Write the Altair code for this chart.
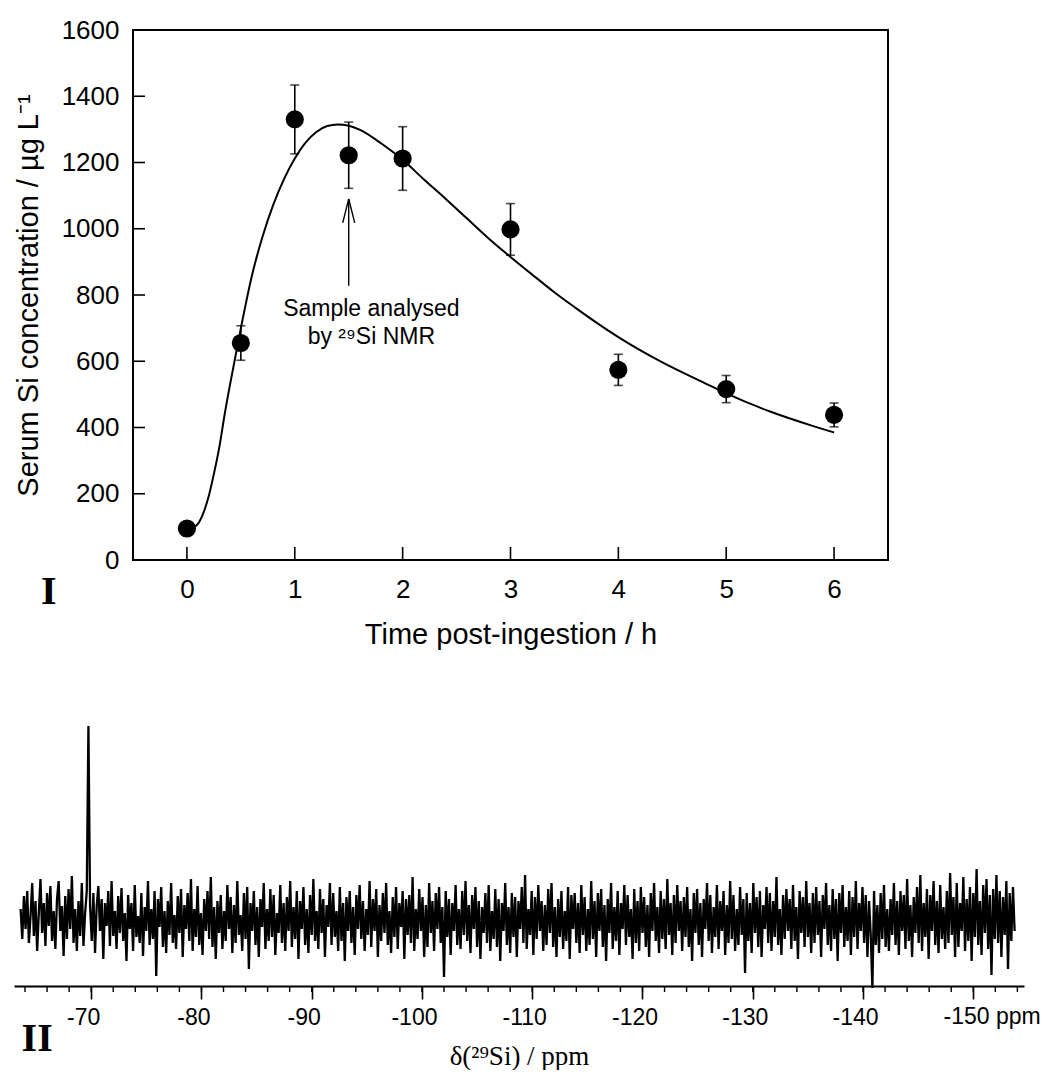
import altair as alt
import pandas as pd

# ---------------- Panel I : serum Si ----------------
time_h = [0, 0.5, 1, 1.5, 2, 3, 4, 5, 6]
serum_si = [95, 655, 1330, 1222, 1212, 998, 574, 516, 438]
serum_err = [10, 52, 104, 100, 96, 78, 47, 41, 36]

fit_time = [0, 0.05, 0.1, 0.15, 0.2, 0.25, 0.3, 0.35, 0.4, 0.45, 0.5, 0.55, 0.6,
            0.7, 0.8, 0.9, 1.0, 1.1, 1.2, 1.3, 1.4, 1.5, 1.6, 1.8, 2.0, 2.2, 2.4,
            2.6, 2.8, 3.0, 3.2, 3.4, 3.6, 3.8, 4.0, 4.4, 4.8, 5.0, 5.4, 5.8, 6.0]
fit_si = [95, 97, 108, 140, 190, 260, 340, 440, 530, 615, 700, 780, 855,
          975, 1072, 1150, 1212, 1260, 1292, 1310, 1315, 1311, 1299, 1258, 1208, 1148, 1090,
          1030, 970, 915, 862, 810, 762, 716, 673, 598, 534, 503, 449, 405, 385]

x_tick_vals = [0, 1, 2, 3, 4, 5, 6]
y_tick_vals = [0, 200, 400, 600, 800, 1000, 1200, 1400, 1600]
t_range = [-0.5, 6.5]
si_range = [0, 1600]

arrow_t = 1.5
arrow_from = 828
arrow_to = 1090
note_t = [1.71, 1.71]
note_v = [737, 652]
note_text = ["Sample analysed", "by ²⁹Si NMR"]

# ---------------- Panel II : 29Si NMR spectrum ----------------
ppm_start = -63.6
ppm_step = -0.15
nmr_intensity = [
    12, -18, 25, -8, 30, -22, 5, 38, -15, 20, -30, 8, 42, -12, 18, -25, 28, -5, 35, -20,
    10, -28, 22, 40, -10, 15, -35, 25, -18, 32, -8, 45, -22, 12, -30, 20, -15, 38, -25, 8,
    30, 195, 15, -20, 28, -32, 15, 35, -10, 22, -38, 18, -5, 30, -25, 40, -15, 10, -28, 25,
    -12, 33, -20, 8, -40, 26, -8, 18, -30, 36, -16, 5, -22, 28, -35, 14, -10, 40, -24, 12,
    -18, 30, -55, 22, -6, 34, -26, 10, -32, 20, -14, 38, -22, 6, -28, 25, -12, 32, -36, 16,
    -8, 28, -20, 42, -30, 12, -16, 35, -24, 8, -34, 22, -10, 30, -18, 44, -26, 14, -38, 20,
    -12, 26, -28, 10, -20, 36, -8, 24, -32, 16, -22, 40, -14, 6, -30, 28, -18, 34, -48, 18,
    -10, 30, -24, 14, -36, 22, -6, 38, -28, 12, -20, 32, -16, 26, -34, 8, -12, 36, -22, 18,
    -30, 24, -10, 40, -26, 14, -18, 30, -38, 20, -8, 34, -24, 12, -32, 26, -14, 42, -20, 10,
    -28, 32, -12, 22, -36, 16, -6, 38, -24, 28, -16, 10, -30, 34, -20, 18, -40, 24, -10, 30,
    -22, 14, -34, 26, -8, 36, -18, 20, -30, 12, -14, 40, -26, 22, -10, 32, -36, 16, -20, 28,
    -12, 38, -24, 10, -32, 24, -16, 34, -28, 18, -6, 30, -38, 22, -14, 26, -22, 44, -30, 12,
    -18, 32, -10, 24, -36, 16, -26, 38, -12, 20, -30, 28, -8, 34, -22, 14, -56, 30, -16, 22,
    -34, 18, -10, 36, -24, 12, -28, 30, -14, 40, -20, 16, -32, 26, -8, 34, -26, 20, -38, 14,
    -12, 28, -22, 36, -30, 10, -18, 32, -26, 22, -40, 18, -10, 38, -24, 14, -32, 28, -16, 24,
    -36, 20, -8, 34, -22, 46, -28, 12, -14, 30, -34, 24, -18, 36, -10, 20, -30, 16, -24, 32,
    -12, 38, -26, 14, -36, 22, -16, 30, -28, 10, -20, 34, -38, 26, -8, 28, -22, 18, -32, 36,
    -14, 24, -30, 12, -24, 40, -18, 20, -36, 28, -10, 32, -26, 16, -40, 22, -12, 38, -28, 14,
    -20, 30, -34, 18, -8, 36, -24, 26, -16, 12, -38, 32, -22, 20, -30, 34, -12, 24, -26, 16,
    -36, 28, -10, 38, -20, 14, -32, 30, -18, 22, -28, 42, -14, 18, -34, 26, -22, 36, -10, 20,
    -30, 24, -16, 34, -26, 12, -40, 28, -12, 32, -24, 18, -36, 22, -8, 38, -20, 26, -32, 14,
    -16, 36, -28, 20, -10, 30, -34, 16, -22, 40, -18, 26, -30, 12, -24, 34, -14, 22, -52, 28,
    -20, 18, -32, 38, -12, 24, -26, 30, -36, 16, -8, 34, -22, 28, -30, 20, -16, 44, -24, 12,
    -34, 26, -18, 32, -10, 22, -28, 36, -20, 14, -38, 30, -12, 24, -26, 40, -16, 18, -32, 28,
    -22, 34, -14, 20, -36, 26, -8, 38, -24, 16, -30, 32, -18, 22, -40, 28, -12, 36, -26, 14,
    -20, 30, -34, 24, -16, 40, -28, 18, -10, 34, -22, 26, -36, 20, -14, -67, 30, -24, 16, -32,
    28, -18, 36, -26, 12, -30, 22, -14, 38, -24, 20, -34, 30, -10, 26, -28, 42, -20, 16, -36,
    24, -12, 34, -22, 46, -30, 18, -16, 32, -38, 26, -10, 40, -24, 20, -32, 36, -18, 14, -28,
    30, -22, 48, -14, 24, -36, 38, -26, 18, -10, 44, -30, 22, -20, 34, -40, 28, -16, 52, -24,
    20, -34, 36, -12, 42, -28, 26, -54, 32, -18, 46, -22, 30, -36, 24, -14, 40, -48, 28, -20,
    34, -10,
]
major_ppm = [-70, -80, -90, -100, -110, -120, -130, -140, -150]
minor_ppm = list(range(-64, -155, -2))

# ---------------- data frames ----------------
pts = pd.DataFrame({"t": time_h, "v": serum_si,
                    "lo": [v - e for v, e in zip(serum_si, serum_err)],
                    "hi": [v + e for v, e in zip(serum_si, serum_err)]})
fit = pd.DataFrame({"t": fit_time, "v": fit_si})
yt = pd.DataFrame({"v": y_tick_vals})
xt = pd.DataFrame({"t": x_tick_vals})
arrow = pd.DataFrame({"t": [arrow_t], "v": [arrow_from], "v2": [arrow_to]})
arrow_head = pd.DataFrame({"t": [arrow_t], "v": [arrow_to - 36]})
notes = pd.DataFrame({"t": note_t, "v": note_v, "label": note_text})
panel1_lab = pd.DataFrame({"t": [-1.28], "v": [-133], "label": ["I"]})
frame = pd.DataFrame({"t": [t_range[0]], "t2": [t_range[1]], "v": [si_range[0]], "v2": [si_range[1]]})

spec = pd.DataFrame({"ppm": [ppm_start + i * ppm_step for i in range(len(nmr_intensity))],
                     "i": nmr_intensity})
minor = pd.DataFrame({"ppm": minor_ppm})
ppm_lab = pd.DataFrame({"ppm": [-147.3], "i": [-103], "label": ["-150 ppm"]})
panel2_lab = pd.DataFrame({"ppm": [-65.1], "i": [-130], "label": ["II"]})

# ---------------- Panel I chart ----------------
# plot area extended to the left so that both panels share the same left origin;
# the y axis is moved inward onto t = -0.5
PX_PER_H = 107.86
left_extra = 119
xs = alt.Scale(domain=[t_range[0] - left_extra / PX_PER_H, t_range[1]], nice=False, zero=False)
ys = alt.Scale(domain=si_range, nice=False, zero=False)
ax_x = alt.Axis(values=x_tick_vals, ticks=False, tickSize=0, grid=False, format="d", domain=False,
                labelFontSize=26, labelPadding=16, labelColor="black",
                title="Time post-ingestion  / h", titleFontSize=29, titlePadding=18,
                titleFontWeight="normal", titleColor="black", titleX=119 + 755 / 2)
ax_y = alt.Axis(values=y_tick_vals, ticks=False, tickSize=0, grid=False, format="d", domain=False,
                offset=-left_extra,
                labelFontSize=26, labelPadding=14, labelColor="black",
                title="Serum Si concentration  / µg L⁻¹", titleFontSize=29, titlePadding=18,
                titleFontWeight="normal", titleColor="black")
X = alt.X("t:Q", scale=xs, axis=ax_x)
Y = alt.Y("v:Q", scale=ys, axis=ax_y)

box = alt.Chart(frame).mark_rect(fillOpacity=0, stroke="black", strokeWidth=2).encode(
    x=X, x2="t2:Q", y=Y, y2="v2:Q")
curve = alt.Chart(fit).mark_line(color="black", strokeWidth=2, interpolate="monotone").encode(x=X, y=Y)
err = alt.Chart(pts).mark_rule(color="black", strokeWidth=1.6).encode(
    x=X, y=alt.Y("lo:Q", scale=ys, axis=ax_y), y2="hi:Q")
cap_lo = alt.Chart(pts).mark_tick(color="black", orient="horizontal", size=9, thickness=1.6).encode(
    x=X, y=alt.Y("lo:Q", scale=ys, axis=ax_y))
cap_hi = alt.Chart(pts).mark_tick(color="black", orient="horizontal", size=9, thickness=1.6).encode(
    x=X, y=alt.Y("hi:Q", scale=ys, axis=ax_y))
dots = alt.Chart(pts).mark_circle(color="black", size=330, opacity=1).encode(x=X, y=Y)
ytick = alt.Chart(yt).mark_rule(color="black", strokeWidth=1.6).encode(
    y=Y, x=alt.datum(t_range[0]), x2=alt.datum(t_range[0] + 12 / PX_PER_H))
xtick = alt.Chart(xt).mark_rule(color="black", strokeWidth=1.6).encode(
    x=X, y=alt.value(530), y2=alt.value(517))
arr = alt.Chart(arrow).mark_rule(color="black", strokeWidth=1.4).encode(
    x=X, y=Y, y2="v2:Q")
head = alt.Chart(arrow_head).mark_point(shape="M-0.5,1L0,-1L0.5,1", filled=False, color="black",
                                        size=576, strokeWidth=1.4, opacity=1).encode(x=X, y=Y)
note = alt.Chart(notes).mark_text(fontSize=23, align="center", baseline="alphabetic",
                                  color="black").encode(x=X, y=Y, text="label:N")
lab1 = alt.Chart(panel1_lab).mark_text(fontSize=40, font="Liberation Serif", fontWeight="bold",
                                       align="center", baseline="alphabetic", color="black").encode(
    x=X, y=Y, text="label:N")

top = alt.layer(box, curve, err, cap_lo, cap_hi, dots, ytick, xtick, arr, head, note, lab1).properties(
    width=left_extra + 755, height=530, view=alt.ViewBackground(stroke="transparent"))

# ---------------- Panel II chart ----------------
ps = alt.Scale(domain=[-63, -154.6], nice=False, zero=False)
is_ = alt.Scale(domain=[-65, 200], nice=False, zero=False)
ax_p = alt.Axis(values=major_ppm, tickSize=13, tickWidth=1.6, tickColor="black", grid=False,
                labelFontSize=23, labelPadding=7, labelOffset=-8, labelColor="black",
                labelExpr="datum.value == -150 ? '' : '-' + abs(datum.value)",
                domainColor="black", domainWidth=2,
                title="δ(²⁹Si) / ppm", titleFont="Liberation Serif", titleFontSize=27,
                titleFontWeight="normal", titlePadding=14, titleColor="black")
PX = alt.X("ppm:Q", scale=ps, axis=ax_p)
PY = alt.Y("i:Q", scale=is_, axis=None)

spec_line = alt.Chart(spec).mark_line(color="black", strokeWidth=2.3).encode(x=PX, y=PY)
minor_t = alt.Chart(minor).mark_rule(color="black", strokeWidth=1.4).encode(
    x=PX, y=alt.value(265), y2=alt.value(271))
ppm_t = alt.Chart(ppm_lab).mark_text(fontSize=23, align="left", baseline="alphabetic",
                                     color="black").encode(x=PX, y=PY, text="label:N")
lab2 = alt.Chart(panel2_lab).mark_text(fontSize=40, font="Liberation Serif", fontWeight="bold",
                                       align="center", baseline="alphabetic", color="black").encode(
    x=PX, y=PY, text="label:N")

bottom = alt.layer(spec_line, minor_t, ppm_t, lab2).properties(
    width=1010, height=265, view=alt.ViewBackground(stroke="transparent"))

chart = alt.vconcat(top, bottom, spacing=70).properties(
    padding={"left": 5, "top": 8, "right": 0, "bottom": 0},
    background="white",
).configure(font="Liberation Sans")

chart.save("out.html", embed_options={"renderer": "svg", "actions": False})
